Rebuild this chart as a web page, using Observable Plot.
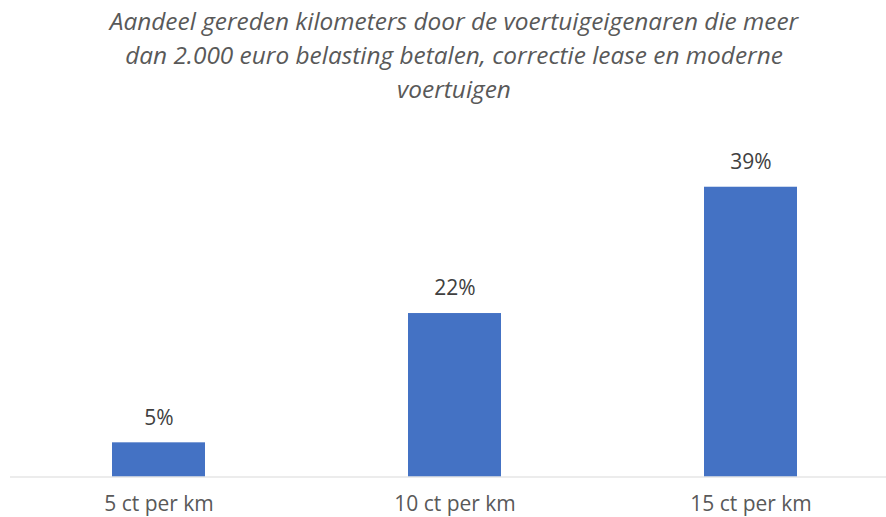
<!DOCTYPE html>
<html><head><meta charset="utf-8">
<script src="https://cdn.jsdelivr.net/npm/d3@7"></script>
<script src="https://cdn.jsdelivr.net/npm/@observablehq/plot@0.6"></script>
<style>
body{margin:0;background:#fff;overflow:hidden;}
#title{width:886px;box-sizing:border-box;padding-left:22px;height:110px;padding-top:4px;text-align:center;font-family:"Open Sans",sans-serif;font-style:italic;font-size:24.4px;line-height:34px;color:#595959;white-space:nowrap;}
</style></head>
<body>
<div id="title">Aandeel gereden kilometers door de voertuigeigenaren die meer<br>dan 2.000 euro belasting betalen, correctie lease en moderne<br>voertuigen</div>
<div id="chart"></div>
<script>
const categories = ["5 ct per km", "10 ct per km", "15 ct per km"];
const values = [4.6, 22, 39];
const labels = ["5%", "22%", "39%"];
const data = categories.map((c, i) => ({cat: c, v: values[i], label: labels[i]}));
const chart = Plot.plot({
  width: 886,
  height: 407,
  marginLeft: 10,
  marginRight: 0,
  marginTop: 69.3,
  marginBottom: 40.5,
  style: {fontFamily: "'Open Sans', sans-serif", color: "#595959", background: "#fff", overflow: "visible"},
  x: {domain: categories, range: [10, 898], paddingInner: 0.686, paddingOuter: 0.343, label: null},
  y: {domain: [0, 40], axis: null},
  marks: [
    Plot.barY(data, {x: "cat", y: "v", fill: "#4472C4"}),
    Plot.ruleY([0], {stroke: "#d9d9d9", strokeWidth: 1.2}),
    Plot.text(data, {x: "cat", y: "v", text: "label", dy: -25, fontSize: 21, fill: "#404040"}),
    Plot.axisX({tickSize: 0, tickPadding: 19, fontSize: 21, fill: "#595959", label: null})
  ]
});
document.getElementById("chart").append(chart);
</script>
</body></html>
